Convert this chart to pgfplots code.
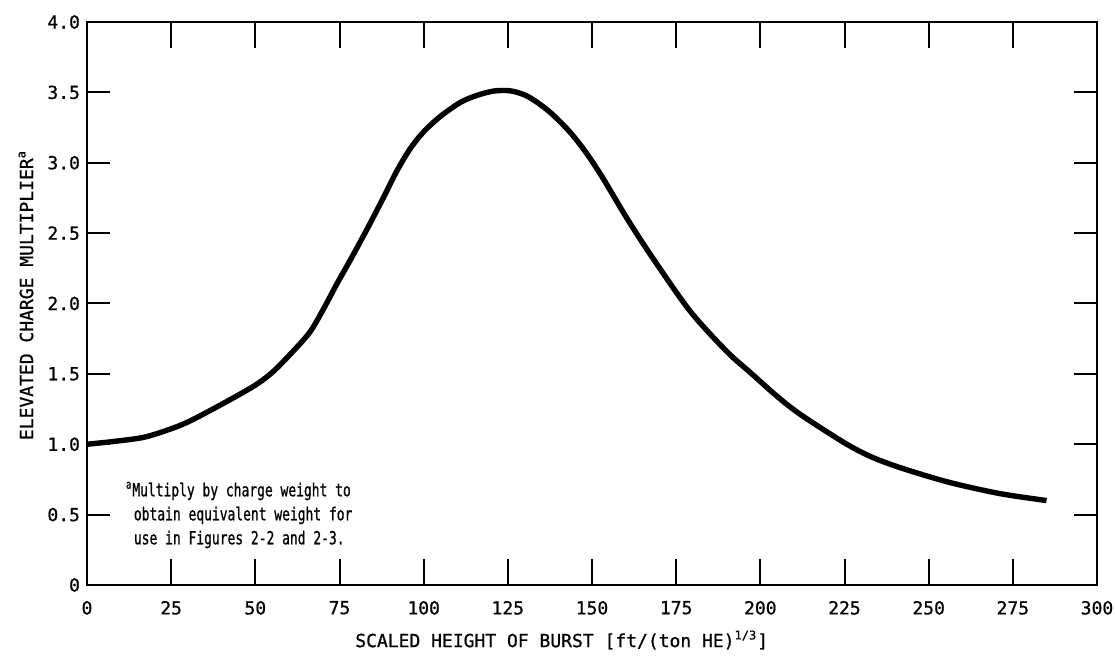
\documentclass[border=0pt]{standalone}
\usepackage{pgfplots}
\pgfplotsset{compat=1.18}
\usepackage{fontspec}
\setmainfont{DejaVu Sans Mono}[FakeBold=0.8,AutoFakeBold=0.8]
\newfontfamily\narrowfont{DejaVu Sans Mono}[FakeStretch=0.72,FakeBold=0.8]
\usetikzlibrary{calc}

\pgfplotstableread{
x     y
0     1.00
8     1.02
17    1.05
25    1.11
31    1.17
42    1.31
50    1.42
55    1.51
60    1.63
66    1.79
70    1.95
74    2.13
78    2.30
83    2.52
88    2.75
92    2.94
96    3.10
100   3.22
105   3.33
111   3.43
116   3.48
121   3.51
126   3.51
131   3.47
137   3.37
143   3.23
148   3.08
153   2.90
160   2.62
167   2.36
179   1.95
190   1.66
197   1.51
205   1.34
212   1.21
225   1.01
233   0.91
242   0.83
256   0.73
271   0.65
285   0.60
}\curvedata

\begin{document}
\begin{tikzpicture}
\begin{axis}[
    scale only axis
  , width = 505pt
  , height = 281.5pt
  , xmin = 0, xmax = 300
  , ymin = 0, ymax = 4
  , axis line style = {line width=1.4pt}
  , tick align = inside
  , tick style = {black, line width=1pt}
  , xtick = {0,25,...,300}
  , xticklabels = {0,25,50,75,100,125,150,175,200,225,250,275,300}
  , ytick = {0,0.5,...,4}
  , yticklabels = {0,0.5,1.0,1.5,2.0,2.5,3.0,3.5,4.0}
  , xtick style = {/pgfplots/major tick length=13pt}
  , ytick style = {/pgfplots/major tick length=11.5pt}
  , ticklabel style = {font=\fontsize{9}{10}\selectfont}
  , xticklabel style = {yshift=-4.5pt}
  , /pgf/number format/assume math mode=true
  , xlabel = {SCALED HEIGHT OF BURST [ft/(ton HE)\textsuperscript{1/3}]}
  , ylabel = {ELEVATED CHARGE MULTIPLIER\textsuperscript{a}}
  , label style = {font=\fontsize{9}{10}\selectfont}
  , xlabel style = {at={(0.47,0)}, anchor=center, yshift=-27.5pt}
  , ylabel style = {at={(-0.0604,0.515)}, anchor=center}
  , clip = false
  ]
\addplot[black, line width=2.7pt, smooth] table[x=x, y=y] {\curvedata};
\node[anchor=north west, align=left, inner sep=0pt,
      font=\narrowfont\fontsize{9}{12}\selectfont]
  at (axis cs:11.5,0.735)
  {\textsuperscript{a}Multiply by charge weight to\\
   \ obtain equivalent weight for\\
   \ use in Figures 2-2 and 2-3.};
\end{axis}
\pgfresetboundingbox
\path[use as bounding box]
  ($(current axis.south west)+(-43.5pt,-35.5pt)$)
  rectangle ($(current axis.north east)+(9pt,11pt)$);
\end{tikzpicture}
\end{document}
